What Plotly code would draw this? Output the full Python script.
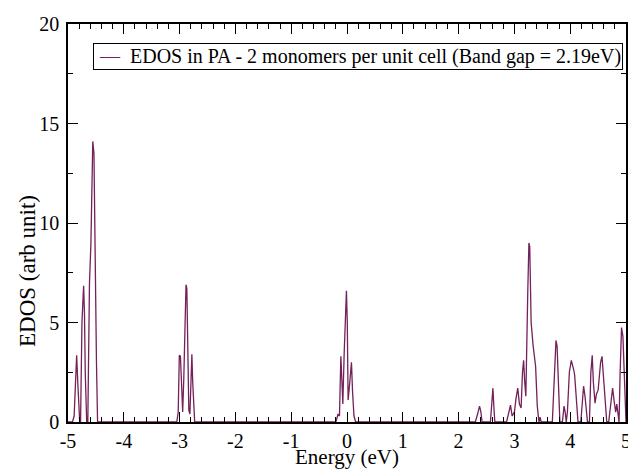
import plotly.graph_objects as go

# Energy (eV) vertices of the EDOS curve
energy = [
    -5.0, -4.92, -4.89, -4.875, -4.845, -4.825, -4.80, -4.79,
    -4.775, -4.75, -4.72, -4.705, -4.69, -4.665,
    -4.645, -4.615, -4.59, -4.556, -4.535, -4.515, -4.49, -4.47,
    -3.05, -3.025, -3.005, -2.985, -2.965, -2.945, -2.925, -2.90, -2.885, -2.87,
    -2.855, -2.835, -2.815, -2.795, -2.78, -2.765, -2.745, -2.73,
    -0.20, -0.16, -0.135, -0.11, -0.09, -0.075, -0.05, -0.01, 0.005, 0.02,
    0.05, 0.08, 0.10, 0.125, 0.155,
    2.30, 2.34, 2.375, 2.40, 2.42,
    2.57, 2.60, 2.615, 2.635, 2.65,
    2.86, 2.90, 2.93, 2.96, 3.00, 3.03, 3.06, 3.09, 3.12, 3.145, 3.165, 3.185,
    3.205, 3.24, 3.26, 3.275, 3.30, 3.335, 3.36, 3.38, 3.41, 3.44, 3.46, 3.48,
    3.68, 3.72, 3.745, 3.765, 3.79, 3.815,
    3.86, 3.89, 3.91, 3.93, 3.95, 3.985, 4.02, 4.04, 4.065, 4.08, 4.11, 4.14,
    4.19, 4.215, 4.24, 4.265, 4.29, 4.31,
    4.345, 4.37, 4.395, 4.415, 4.445, 4.47, 4.50, 4.545, 4.57, 4.59, 4.62, 4.655,
    4.69, 4.73, 4.76, 4.79, 4.815, 4.835, 4.855, 4.875, 4.895, 4.92, 4.945, 4.975, 5.0,
]

# EDOS (arb unit) at each vertex
edos = [
    0, 0, 0.3, 1.2, 3.35, 2.0, 0.3, 0,
    0, 5.0, 6.85, 5.5, 2.4, 0,
    0, 7.0, 8.9, 14.1, 13.5, 7.0, 3.0, 0,
    0, 0.5, 3.35, 3.3, 1.5, 0.5, 2.2, 5.0, 6.9, 6.7,
    2.5, 0.6, 0.4, 3.0, 3.4, 2.0, 0.3, 0,
    0, 0.4, 0.3, 3.3, 2.0, 0.9, 3.5, 6.6, 5.0, 1.1,
    2.0, 3.0, 1.5, 0.3, 0,
    0, 0.4, 0.8, 0.5, 0,
    0, 1.5, 1.7, 0.6, 0,
    0, 0.6, 0.85, 0.3, 0.5, 1.2, 1.7, 0.9, 0.7, 2.5, 3.1, 2.0,
    1.3, 6.6, 9.0, 8.8, 5.0, 3.85, 3.2, 2.8, 0.8, 0, 0.25, 0,
    0, 2.5, 4.1, 3.8, 1.5, 0,
    0, 0.8, 0.5, 0, 0.5, 2.5, 3.1, 2.9, 2.6, 2.35, 1.0, 0,
    0, 1.2, 1.8, 1.3, 0.3, 0,
    0, 2.5, 3.35, 2.0, 0.95, 1.4, 1.6, 3.0, 3.3, 2.5, 1.5, 0,
    0, 1.2, 1.7, 1.0, 0.5, 0.9, 0.3, 0, 2.5, 4.75, 4.3, 2.0, 0,
]

x_ticks = [-5, -4, -3, -2, -1, 0, 1, 2, 3, 4, 5]
y_ticks = [0, 5, 10, 15, 20]

series_name = "EDOS in PA - 2 monomers per unit cell (Band gap = 2.19eV)"
x_title = "Energy (eV)"
y_title = "EDOS (arb unit)"
line_color = "#74205a"
font_family = "Liberation Serif"

fig = go.Figure()
fig.add_trace(go.Scatter(
    x=energy, y=edos, mode="lines", name=series_name,
    line=dict(color=line_color, width=1.3),
    showlegend=False,
))

axis_common = dict(
    showline=True, linecolor="black", linewidth=1.5, mirror="ticks",
    ticks="inside", ticklen=10, tickwidth=1, tickcolor="black",
    showgrid=False, zeroline=False,
    tickfont=dict(family=font_family, size=20, color="black"),
    ticklabeloverflow="allow",
)

legend_text = (
    f'&nbsp;<span style="color:{line_color}">—</span>&nbsp;&nbsp;{series_name}'
)

# the page body has an 8px default margin, so the figure is 8px smaller than the window
fig.update_layout(
    width=628, height=463,
    margin=dict(l=60, r=5, t=14, b=49),
    paper_bgcolor="white", plot_bgcolor="white",
    font=dict(family=font_family, color="black"),
    xaxis=dict(
        range=[-5, 5], tickvals=x_ticks, ticktext=[str(v) for v in x_ticks],
        minor=dict(dtick=0.2, ticklen=5, ticks="inside", tickcolor="black", tickwidth=1),
        **axis_common,
    ),
    yaxis=dict(
        range=[0, 20], tickvals=y_ticks, ticktext=[str(v) for v in y_ticks],
        minor=dict(dtick=2.5, ticklen=5, ticks="inside", tickcolor="black", tickwidth=1),
        ticklabelstandoff=3,
        **axis_common,
    ),
    annotations=[
        dict(text=legend_text, xref="paper", yref="paper", x=0.0444, y=0.9525,
             xanchor="left", yanchor="top", showarrow=False, align="left",
             bgcolor="white", bordercolor="black", borderwidth=1, borderpad=1,
             font=dict(family=font_family, size=20, color="black")),
        dict(text=x_title, xref="paper", yref="paper", x=0.5, y=-0.0875,
             xanchor="center", yanchor="middle", showarrow=False,
             font=dict(family=font_family, size=21, color="black")),
        dict(text=y_title, xref="paper", yref="paper", x=-0.073, y=0.38,
             xanchor="center", yanchor="middle", showarrow=False, textangle=-90,
             font=dict(family=font_family, size=23, color="black")),
    ],
)

fig.write_html("out.html")
